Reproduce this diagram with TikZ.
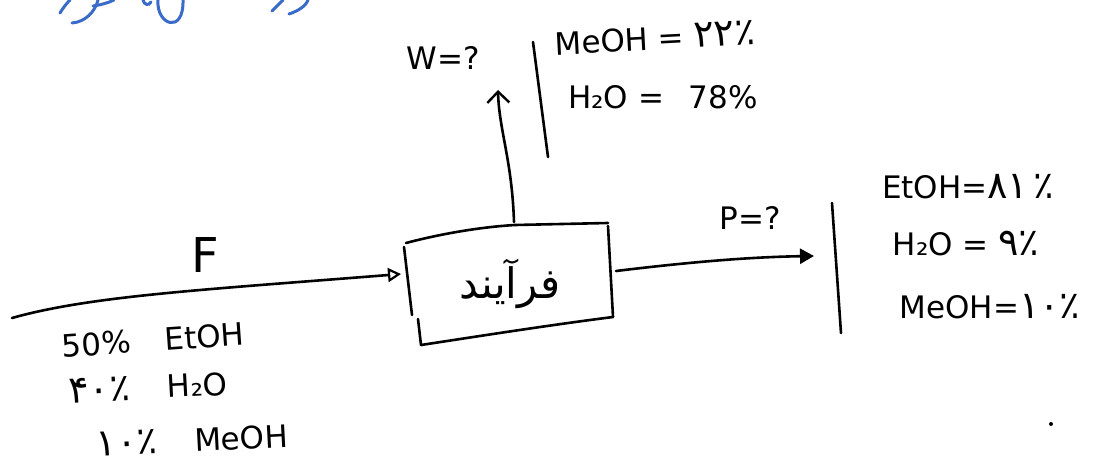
\documentclass[tikz,border=0pt]{standalone}
\usepackage{fontspec}
\setmainfont{DejaVu Sans}
\newfontfamily\fa[Script=Arabic]{DejaVu Sans}
\usetikzlibrary{arrows.meta}
\TeXXeTstate=1
\definecolor{penblue}{HTML}{3A6BC8}
% Persian digits, set a little larger than the Latin text around them
\newcommand{\pdig}[1]{{\fa\fontsize{38}{40}\selectfont #1}}
\tikzset{
  pen/.style={line width=2.6pt, line cap=round, line join=round, draw=black},
  bluepen/.style={line width=3pt, line cap=round, draw=penblue},
  hand/.style={font=\fontsize{31}{36}\selectfont, inner sep=0pt, anchor=center},
  bigletter/.style={font=\fontsize{48}{52}\selectfont, inner sep=0pt, anchor=center},
  unitlabel/.style={font=\fa\fontsize{42}{46}\selectfont, inner sep=0pt, anchor=center},
  openhead/.style={-{Triangle[open, length=13pt, width=14pt, line width=2.2pt]}},
  solidhead/.style={-{Triangle[length=14pt, width=15pt]}},
  barbhead/.style={-{Straight Barb[length=11pt, width=22pt, line width=2.4pt]}},
}
\begin{document}
\begin{tikzpicture}[x=1pt,y=-1pt]
\useasboundingbox (0,0) rectangle (1098,469);

% blue handwriting along the top edge (cut off)
\draw[bluepen] (60,13) .. controls (63,8) and (66,4) .. (70,0);
\draw[bluepen] (72,23) .. controls (85,22) and (95,12) .. (98,0);
\draw[bluepen] (93,6) .. controls (100,5) and (108,3) .. (114,0);
\draw[bluepen] (143,0) .. controls (144,5) and (149,6) .. (151,2);
\draw[bluepen] (158,0) .. controls (156,25) and (184,35) .. (183,0);
\draw[bluepen] (272,11) .. controls (276,7) and (280,3) .. (283,0);
\draw[bluepen] (289,14) .. controls (298,11) and (306,6) .. (308,0);

% process unit (hand-drawn box)
\coordinate (tl) at (406,243);
\coordinate (tr) at (608,223);
\coordinate (br) at (613,317);
\coordinate (bl) at (421,345);
\draw[pen] (tl) .. controls (440,234) and (480,227) .. (515,225) -- (tr);
\draw[pen] (608,226) -- (br);
\draw[pen] (bl) .. controls (480,336) and (550,325) .. (br);
\draw[pen] (404,247) -- (412,315);
\draw[pen] (418,319) -- (bl);
\node[unitlabel] (proc) at (510,284) {\beginR فرآیند\endR};

% connection points
\coordinate (feedstart) at (12,318);
\coordinate (boxin) at (401,274);
\coordinate (boxtop) at (514,222);
\coordinate (wtip) at (498,90);
\coordinate (boxout) at (616,271);
\coordinate (ptip) at (814,256);

% feed stream
\draw[pen, openhead] (feedstart) .. controls (90,296) and (200,290) .. (boxin);
\node[bigletter] (F) at (205,255) {F};
\node[hand, rotate=4] (f1) at (153,340) {50\%\hspace{1.1em}EtOH};
\node[hand, rotate=3] (f2) at (148,387) {\pdig{۴۰٪}\hspace{1.2em}H₂O};
\node[hand, rotate=3] (f3) at (192,440) {\pdig{۱۰٪}\hspace{1.2em}MeOH};

% top stream W
\draw[pen, barbhead] (boxtop) .. controls (512,160) and (499,130) .. (wtip);
\node[hand] (W) at (443,58) {W=?};
\coordinate (wbar1) at (533,42);
\coordinate (wbar2) at (548,157);
\draw[pen] (wbar1) -- (wbar2);
\node[hand, rotate=3] (w1) at (655,38) {MeOH = \pdig{۲۲٪}};
\node[hand] (w2) at (663,97) {H₂O =\hspace{0.8em}78\%};

% product stream P
\draw[pen, solidhead] (boxout) .. controls (690,262) and (750,257) .. (ptip);
\node[hand] (P) at (750,218) {P=?};
\coordinate (pbar1) at (832,203);
\coordinate (pbar2) at (841,333);
\draw[pen] (pbar1) -- (pbar2);
\node[hand] (p1) at (968,187) {EtOH=\pdig{۸۱}\,\pdig{٪}};
\node[hand] (p2) at (966,244) {H₂O = \pdig{۹٪}};
\node[hand] (p3) at (990,307) {MeOH=\pdig{۱۰٪}};

% stray pen dot
\fill (1051,424) circle (2pt);
\end{tikzpicture}
\end{document}
